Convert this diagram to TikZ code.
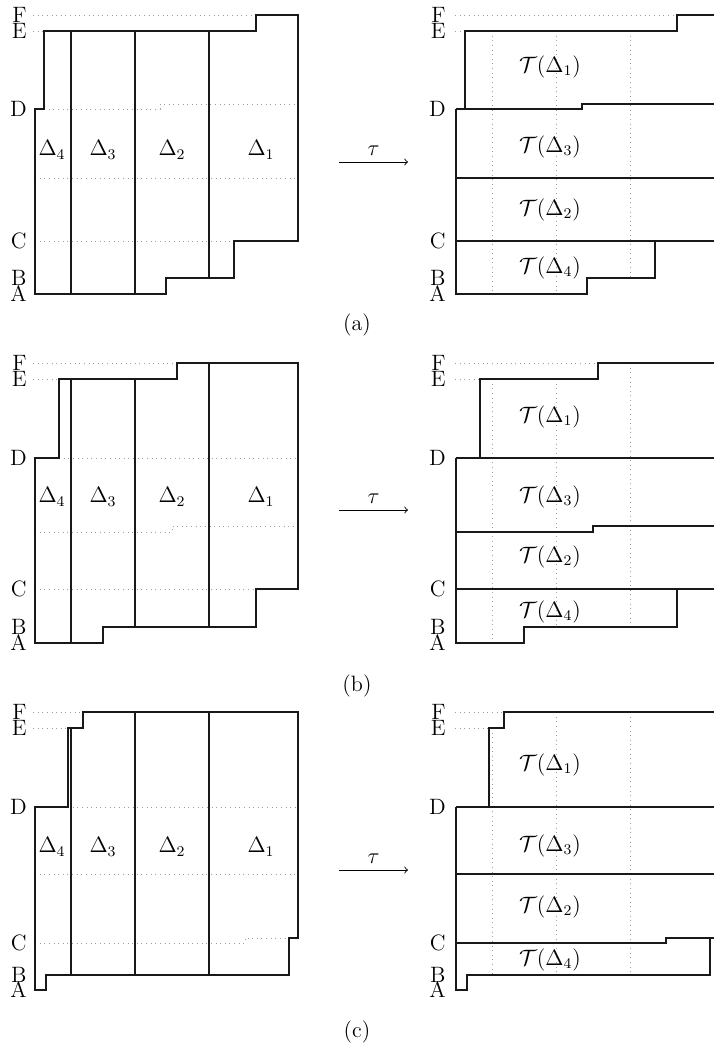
\documentclass[tikz,border=0pt]{standalone}
\begin{document}
\begin{tikzpicture}[x=0.54pt,y=-0.54pt,
  every node/.style={font=\large},
  solid line/.style={line width=0.85pt, black!90, line join=miter},
  guide/.style={dotted, gray!75, line width=0.5pt},
  lvl/.style={anchor=east, inner sep=0pt},
  reg/.style={inner sep=0pt},
  captext/.style={inner sep=0pt},
  mapto/.style={->, line width=0.5pt}]
\useasboundingbox (0,0) rectangle (714,1047);
\clip (0,0) rectangle (714,1047);
\fill[white] (0,0) rectangle (714,1047);

% ================= (a) =================
% left guides
\draw[guide] (33,15) -- (256,15);
\draw[guide] (33,31) -- (44,31);
\draw[guide] (44,109) -- (160,109) -- (160,104) -- (298,104);
\draw[guide] (35,178) -- (298,178);
\draw[guide] (35,241) -- (234,241);
% left outline
\draw[solid line] (35,294) -- (166,294) -- (166,278) -- (234,278) -- (234,241) -- (298,241) -- (298,15) -- (256,15) -- (256,31) -- (44,31) -- (44,109) -- (35,109) -- cycle;
\draw[solid line] (71,31) -- (71,294);
\draw[solid line] (135,31) -- (135,294);
\draw[solid line] (209,31) -- (209,278);
\node[lvl] (aLF) at (27,15) {F};
\node[lvl] (aLE) at (27,31) {E};
\node[lvl] (aLD) at (27,109) {D};
\node[lvl] (aLC) at (27,241) {C};
\node[lvl] (aLB) at (27,278) {B};
\node[lvl] (aLA) at (27,294) {A};
\node[reg] (aD4) at (52,150) {$\Delta_4$};
\node[reg] (aD3) at (103,150) {$\Delta_3$};
\node[reg] (aD2) at (172,150) {$\Delta_2$};
\node[reg] (aD1) at (261,150) {$\Delta_1$};
% right guides
\draw[guide] (492,31) -- (492,294);
\draw[guide] (556,31) -- (556,294);
\draw[guide] (630,31) -- (630,278);
\draw[guide] (455,15) -- (677,15);
\draw[guide] (455,31) -- (465,31);
% right outline
\draw[solid line] (456,109) -- (456,294) -- (587,294) -- (587,278) -- (655,278) -- (655,241);
\draw[solid line] (456,241) -- (720,241);
\draw[solid line] (456,178) -- (720,178);
\draw[solid line] (456,109) -- (582,109) -- (582,104) -- (720,104);
\draw[solid line] (465,109) -- (465,31) -- (677,31) -- (677,15) -- (720,15);
\node[lvl] (aRF) at (446,15) {F};
\node[lvl] (aRE) at (446,31) {E};
\node[lvl] (aRD) at (446,109) {D};
\node[lvl] (aRC) at (446,241) {C};
\node[lvl] (aRB) at (446,278) {B};
\node[lvl] (aRA) at (446,294) {A};
\node[reg] (aT1) at (550,67) {$\mathcal{T}(\Delta_1)$};
\node[reg] (aT3) at (550,147) {$\mathcal{T}(\Delta_3)$};
\node[reg] (aT2) at (550,210) {$\mathcal{T}(\Delta_2)$};
\node[reg] (aT4) at (550,268) {$\mathcal{T}(\Delta_4)$};
\coordinate (aS) at (339,162);
\coordinate (aE) at (408,162);
\draw[mapto] (aS) -- node[above=3pt, inner sep=0pt] (atau) {$\tau$} (aE);
\node[captext] (capa) at (357,325) {(a)};

% ================= (b) =================
\draw[guide] (33,363) -- (177,363);
\draw[guide] (33,379) -- (59,379);
\draw[guide] (59,458) -- (298,458);
\draw[guide] (35,532) -- (172,532) -- (172,526) -- (298,526);
\draw[guide] (35,589) -- (256,589);
\draw[solid line] (35,643) -- (103,643) -- (103,627) -- (256,627) -- (256,589) -- (298,589) -- (298,363) -- (177,363) -- (177,379) -- (59,379) -- (59,458) -- (35,458) -- cycle;
\draw[solid line] (71,379) -- (71,643);
\draw[solid line] (135,379) -- (135,627);
\draw[solid line] (209,363) -- (209,627);
\node[lvl] (bLF) at (27,363) {F};
\node[lvl] (bLE) at (27,379) {E};
\node[lvl] (bLD) at (27,458) {D};
\node[lvl] (bLC) at (27,589) {C};
\node[lvl] (bLB) at (27,627) {B};
\node[lvl] (bLA) at (27,643) {A};
\node[reg] (bD4) at (52,497) {$\Delta_4$};
\node[reg] (bD3) at (103,497) {$\Delta_3$};
\node[reg] (bD2) at (172,497) {$\Delta_2$};
\node[reg] (bD1) at (261,497) {$\Delta_1$};
\draw[guide] (492,379) -- (492,643);
\draw[guide] (556,379) -- (556,627);
\draw[guide] (630,363) -- (630,627);
\draw[guide] (455,363) -- (598,363);
\draw[guide] (455,379) -- (480,379);
\draw[solid line] (456,458) -- (456,643) -- (524,643) -- (524,627) -- (677,627) -- (677,589);
\draw[solid line] (456,589) -- (720,589);
\draw[solid line] (456,532) -- (593,532) -- (593,526) -- (720,526);
\draw[solid line] (456,458) -- (720,458);
\draw[solid line] (480,458) -- (480,379) -- (598,379) -- (598,363) -- (720,363);
\node[lvl] (bRF) at (446,363) {F};
\node[lvl] (bRE) at (446,379) {E};
\node[lvl] (bRD) at (446,458) {D};
\node[lvl] (bRC) at (446,589) {C};
\node[lvl] (bRB) at (446,627) {B};
\node[lvl] (bRA) at (446,643) {A};
\node[reg] (bT1) at (550,417) {$\mathcal{T}(\Delta_1)$};
\node[reg] (bT3) at (550,497) {$\mathcal{T}(\Delta_3)$};
\node[reg] (bT2) at (550,557) {$\mathcal{T}(\Delta_2)$};
\node[reg] (bT4) at (550,612) {$\mathcal{T}(\Delta_4)$};
\coordinate (bS) at (339,510);
\coordinate (bE) at (408,510);
\draw[mapto] (bS) -- node[above=3pt, inner sep=0pt] (btau) {$\tau$} (bE);
\node[captext] (capb) at (357,686) {(b)};

% ================= (c) =================
\draw[guide] (33,712) -- (83,712);
\draw[guide] (33,728) -- (68,728);
\draw[guide] (68,807) -- (298,807);
\draw[guide] (35,874) -- (298,874);
\draw[guide] (35,943) -- (245,943) -- (245,938) -- (289,938);
\draw[solid line] (35,990) -- (46,990) -- (46,975) -- (289,975) -- (289,938) -- (298,938) -- (298,712) -- (83,712) -- (83,728) -- (68,728) -- (68,807) -- (35,807) -- cycle;
\draw[solid line] (71,728) -- (71,975);
\draw[solid line] (135,712) -- (135,975);
\draw[solid line] (209,712) -- (209,975);
\node[lvl] (cLF) at (27,712) {F};
\node[lvl] (cLE) at (27,728) {E};
\node[lvl] (cLD) at (27,807) {D};
\node[lvl] (cLC) at (27,943) {C};
\node[lvl] (cLB) at (27,975) {B};
\node[lvl] (cLA) at (27,990) {A};
\node[reg] (cD4) at (52,847) {$\Delta_4$};
\node[reg] (cD3) at (103,847) {$\Delta_3$};
\node[reg] (cD2) at (172,847) {$\Delta_2$};
\node[reg] (cD1) at (261,847) {$\Delta_1$};
\draw[guide] (492,728) -- (492,975);
\draw[guide] (556,712) -- (556,975);
\draw[guide] (630,712) -- (630,975);
\draw[guide] (455,712) -- (504,712);
\draw[guide] (455,728) -- (489,728);
\draw[solid line] (456,807) -- (456,990) -- (467,990) -- (467,975) -- (710,975) -- (710,938);
\draw[solid line] (456,943) -- (666,943) -- (666,938) -- (720,938);
\draw[solid line] (456,874) -- (720,874);
\draw[solid line] (456,807) -- (720,807);
\draw[solid line] (489,807) -- (489,728) -- (504,728) -- (504,712) -- (720,712);
\node[lvl] (cRF) at (446,712) {F};
\node[lvl] (cRE) at (446,728) {E};
\node[lvl] (cRD) at (446,807) {D};
\node[lvl] (cRC) at (446,943) {C};
\node[lvl] (cRB) at (446,975) {B};
\node[lvl] (cRA) at (446,990) {A};
\node[reg] (cT1) at (550,765) {$\mathcal{T}(\Delta_1)$};
\node[reg] (cT3) at (550,846) {$\mathcal{T}(\Delta_3)$};
\node[reg] (cT2) at (550,907) {$\mathcal{T}(\Delta_2)$};
\node[reg] (cT4) at (550,960) {$\mathcal{T}(\Delta_4)$};
\coordinate (cS) at (339,870);
\coordinate (cE) at (408,870);
\draw[mapto] (cS) -- node[above=3pt, inner sep=0pt] (ctau) {$\tau$} (cE);
\node[captext] (capc) at (357,1032) {(c)};
\end{tikzpicture}
\end{document}
